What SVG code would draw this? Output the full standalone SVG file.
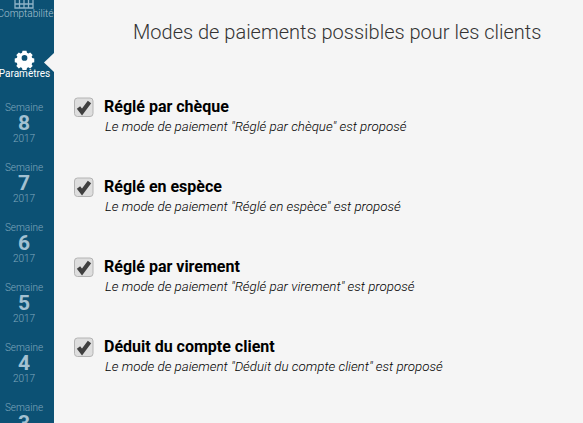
<svg xmlns="http://www.w3.org/2000/svg" width="583" height="423" viewBox="0 0 583 423">
<style>
text{font-family:Roboto,"Liberation Sans",sans-serif}
.sm{font-size:10px;font-weight:300;fill:#7fa6bc;text-anchor:middle}
.yr{font-size:10px;font-weight:300;fill:#7fa6bc;text-anchor:middle}
.num{font-size:21px;font-weight:700;fill:#a3c1d2;text-anchor:middle}
.h{font-size:16px;font-weight:700;fill:#000}
.d{font-size:13.330px;font-weight:300;font-style:italic;fill:#000}
.box{fill:#dedede;stroke:#b4b4b4;stroke-width:1}
.chk{fill:none;stroke:#3f3f3f;stroke-width:4.200}
</style>
<defs>
<g id="cb"><rect class="box" x="0.5" y="1" width="18.500" height="18.500" rx="3"/><path class="chk" d="M4.500 10.500 L8 15 L15.500 5"/></g>
</defs>
<rect width="583" height="423" fill="#f5f5f5"/>
<rect width="54" height="423" fill="#0c5174"/>
<g id="nav-comptabilite">
<path d="M15 0V8H33V0M15 4H33M19.500 0V8M24 0V8M28.500 0V8" fill="none" stroke="#8fb3c7" stroke-width="1.300"/>
<text x="25.500" y="17" font-size="10" font-weight="300" fill="#a9c4d3" text-anchor="middle">Comptabilité</text>
</g>
<g id="nav-parametres">
<path fill-rule="evenodd" fill="#fff" transform="translate(5.300,10.400) scale(.8)" d="M21.500 50.500h5l.6 2.500 1.800.8 2.200-1.300 3.100 3.100-1.300 2.200.8 1.800 2.500.6v4.600l-2.500.6-.8 1.800 1.300 2.200-3.100 3.100-2.200-1.300-1.800.8-.6 2.500h-5l-.6-2.500-1.800-.8-2.200 1.300-3.100-3.100 1.300-2.200-.8-1.800-2.500-.6v-4.600l2.500-.6.8-1.800-1.300-2.200 3.100-3.100 2.200 1.300 1.800-.8zM24 55.800a3.600 3.600 0 1 0 0 7.200a3.600 3.600 0 1 0 0-7.200z"/>
<text x="24.500" y="77" font-size="10" fill="#fff" text-anchor="middle">Paramètres</text>
<path d="M54 53V72L44 62.500Z" fill="#f5f5f5"/>
</g>
<g id="week-8"><text class="sm" x="24" y="111">Semaine</text><text class="num" x="24" y="130">8</text><text class="yr" x="24" y="142">2017</text></g>
<g id="week-7"><text class="sm" x="24" y="171">Semaine</text><text class="num" x="24" y="190">7</text><text class="yr" x="24" y="202">2017</text></g>
<g id="week-6"><text class="sm" x="24" y="231">Semaine</text><text class="num" x="24" y="250">6</text><text class="yr" x="24" y="262">2017</text></g>
<g id="week-5"><text class="sm" x="24" y="291">Semaine</text><text class="num" x="24" y="310">5</text><text class="yr" x="24" y="322">2017</text></g>
<g id="week-4"><text class="sm" x="24" y="351">Semaine</text><text class="num" x="24" y="370">4</text><text class="yr" x="24" y="382">2017</text></g>
<g id="week-3"><text class="sm" x="24" y="411">Semaine</text><text class="num" x="24" y="430">3</text></g>
<text id="title" x="133" y="39" font-size="20" font-weight="300" fill="#333">Modes de paiements possibles pour les clients</text>
<g id="opt-cheque"><use href="#cb" x="74" y="97"/><text class="h" x="104" y="112">Réglé par chèque</text><text class="d" x="105" y="131">Le mode de paiement "Réglé par chèque" est proposé</text></g>
<g id="opt-espece"><use href="#cb" x="74" y="177"/><text class="h" x="104" y="192">Réglé en espèce</text><text class="d" x="105" y="211">Le mode de paiement "Réglé en espèce" est proposé</text></g>
<g id="opt-virement"><use href="#cb" x="74" y="257"/><text class="h" x="104" y="272">Réglé par virement</text><text class="d" x="105" y="291">Le mode de paiement "Réglé par virement" est proposé</text></g>
<g id="opt-compte"><use href="#cb" x="74" y="337"/><text class="h" x="104" y="352">Déduit du compte client</text><text class="d" x="105" y="371">Le mode de paiement "Déduit du compte client" est proposé</text></g>
</svg>
